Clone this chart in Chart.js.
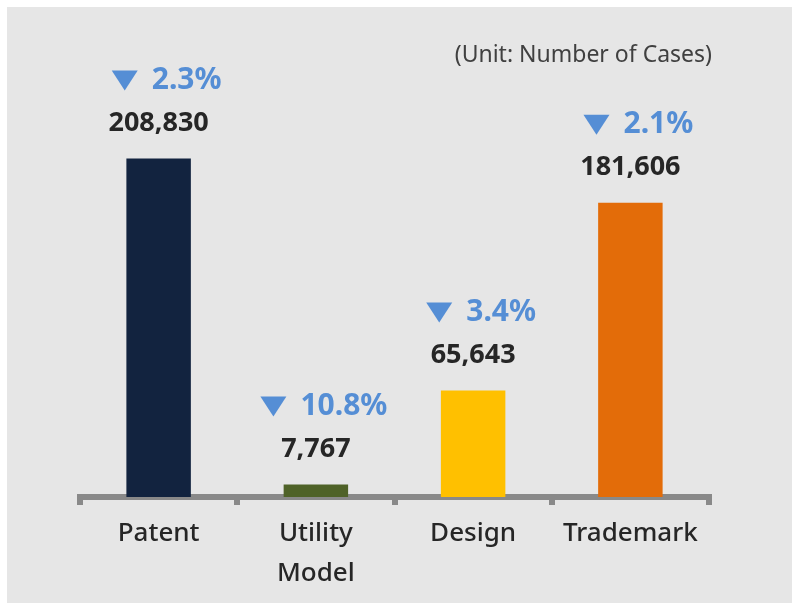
<!DOCTYPE html>
<html>
<head>
<meta charset="utf-8">
<script src="https://cdn.jsdelivr.net/npm/chart.js@4.4.1/dist/chart.umd.min.js"></script>
<style>
  html, body { margin: 0; padding: 0; background: #e6e6e6; overflow: hidden; }
  #wrap { width: 792px; height: 603px; }
</style>
</head>
<body>
<div id="wrap"><canvas id="chart" width="792" height="603"></canvas></div>
<script>
// ---------------- DATA ----------------
const categories = [["Patent"], ["Utility", "Model"], ["Design"], ["Trademark"]];
const caseCounts = [208830, 7767, 65643, 181606];
const changeLabels = ["2.3%", "10.8%", "3.4%", "2.1%"];
const barColors = ["#12233f", "#4f6228", "#ffc000", "#e36c09"];
const unitNote = "(Unit: Number of Cases)";

const FONT = "'Noto Sans', 'Open Sans', sans-serif";

// ---------------- FRAME + LABELS PLUGIN ----------------
const annotate = {
  id: "annotate",
  beforeDraw(chart) {
    // thin white frame on the top and left edges
    const ctx = chart.ctx;
    ctx.save();
    ctx.fillStyle = "#ffffff";
    ctx.fillRect(0, 0, chart.width, 7);
    ctx.fillRect(0, 0, 7, chart.height);
    ctx.restore();
  },
  afterDraw(chart) {
    const ctx = chart.ctx;
    const bars = chart.getDatasetMeta(0).data;
    ctx.save();
    ctx.textBaseline = "middle";

    // unit note
    ctx.font = "23px " + FONT;
    ctx.fillStyle = "#404040";
    ctx.textAlign = "right";
    ctx.fillText(unitNote, 712, 55);

    bars.forEach((bar, i) => {
      const valueY = bar.y - 35;
      const pctY = valueY - 44;

      // value
      ctx.font = "bold 27px " + FONT;
      ctx.fillStyle = "#262626";
      ctx.textAlign = "center";
      ctx.fillText(caseCounts[i].toLocaleString("en-US"), bar.x, valueY);

      // change: triangle + percent
      ctx.font = "bold 30px " + FONT;
      const tw = ctx.measureText(changeLabels[i]).width;
      const triW = 26, gap = 14;
      const total = triW + gap + tw;
      const left = bar.x + 8 - total / 2;
      ctx.fillStyle = "#558ed5";
      ctx.beginPath();
      ctx.moveTo(left, pctY - 9);
      ctx.lineTo(left + triW, pctY - 9);
      ctx.lineTo(left + triW / 2, pctY + 11);
      ctx.closePath();
      ctx.fill();
      ctx.textAlign = "left";
      ctx.fillText(changeLabels[i], left + triW + gap, pctY + 1);
    });
    ctx.restore();
  }
};

// ---------------- CHART ----------------
new Chart(document.getElementById("chart").getContext("2d"), {
  type: "bar",
  data: {
    labels: categories,
    datasets: [{
      data: caseCounts,
      backgroundColor: barColors,
      borderWidth: 0,
      barPercentage: 0.41,
      categoryPercentage: 1.0
    }]
  },
  options: {
    responsive: false,
    animation: false,
    layout: { padding: { left: 80, right: 83, top: 40, bottom: 0 } },
    plugins: {
      legend: { display: false },
      tooltip: { enabled: false }
    },
    scales: {
      y: {
        display: false,
        min: 0,
        max: 282000
      },
      x: {
        z: 1,
        afterFit(scale) { scale.height = 106; },
        border: { display: true, color: "#898989", width: 6 },
        grid: {
          offset: true,
          drawOnChartArea: false,
          drawTicks: true,
          tickLength: 8,
          color: "#898989",
          lineWidth: 6
        },
        ticks: {
          padding: 8,
          color: "#262626",
          font: { family: FONT, size: 26, weight: 500, lineHeight: 1.55 }
        }
      }
    }
  },
  plugins: [annotate]
});
</script>
</body>
</html>
